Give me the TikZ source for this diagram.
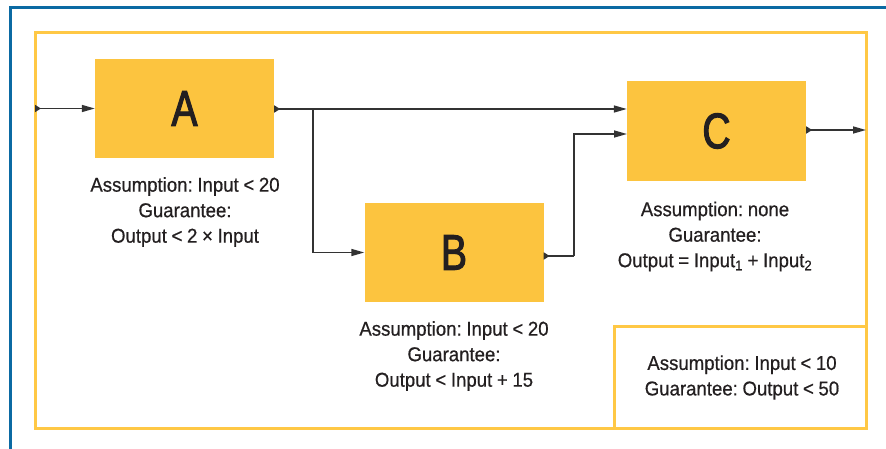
\documentclass[tikz,border=0pt]{standalone}
\usepackage{fontspec}
\setmainfont{Liberation Sans}[FakeStretch=0.93, FakeBold=0.6, WordSpace=0.9]
\newfontfamily\blockfont{Liberation Sans}[FakeStretch=0.78, FakeBold=2.2]
\usetikzlibrary{arrows.meta}
\frenchspacing

\definecolor{blockyellow}{HTML}{FCC43F}
\definecolor{frameyellow}{HTML}{FFC845}
\definecolor{frameblue}{HTML}{0B6AA3}
\definecolor{inkgray}{HTML}{231F20}
\definecolor{wiregray}{HTML}{333333}

\tikzset{
  block/.style={fill=blockyellow, draw=none, minimum width=179pt,
    minimum height=99pt, inner sep=0pt, text=inkgray,
    font=\blockfont\fontsize{50}{50}\selectfont},
  contract/.style={align=center, text=inkgray, inner sep=0pt,
    font=\fontsize{20}{25.5}\selectfont\frenchspacing},
  wire/.style={draw=wiregray, line width=1.5pt,
    -{Triangle[length=13pt,width=7pt]}},
  portwire/.style={draw=wiregray, line width=1.5pt,
    {Triangle[length=6pt,width=7pt,reversed]}-{Triangle[length=13pt,width=7pt]}},
  plainport/.style={draw=wiregray, line width=1.5pt,
    {Triangle[length=6pt,width=7pt,reversed]}-},
  yellowframe/.style={draw=frameyellow, line width=3pt},
  blueframe/.style={draw=frameblue, line width=3pt}
}

\begin{document}
\begin{tikzpicture}[x=1pt,y=-1pt]
  \useasboundingbox (0,0) rectangle (886,449);

  % outer page frame
  \draw[blueframe] (10,449) -- (10,8) -- (886,8);

  % composite component frame and its own contract box
  \draw[yellowframe] (35,33) rectangle (866,428);
  \draw[yellowframe] (614,428) |- (866,326);

  % components
  \node[block] (A) at (184.5,108.5) {A};
  \node[block] (B) at (454,252.5) {B};
  \node[block, minimum height=100pt] (C) at (716.5,131) {C};

  % contracts
  \node[contract] (ctA) at (185,212)
    {Assumption: Input < 20\\Guarantee:\\Output < 2 × Input};
  \node[contract] (ctB) at (454,356)
    {Assumption: Input < 20\\Guarantee:\\Output < Input + 15};
  \node[contract] (ctC) at (715,236.5)
    {Assumption: none\\Guarantee:\\Output = Input\textsubscript{1} + Input\textsubscript{2}};
  \node[contract] (ctTop) at (742,377.5)
    {Assumption: Input < 10\\Guarantee: Output < 50};

  % ports and junctions
  \coordinate (in) at (35,108.5);
  \coordinate (split) at (313,109);
  \coordinate (bend) at (574,256);
  \coordinate (cinB) at (627,134);
  \coordinate (out) at (866,130);

  % connections
  \draw[portwire] (in) -- (A.west);
  \draw[portwire] (A.east |- split) -- (C.west |- split);
  \draw[wire] (split) |- (B.west);
  \draw[plainport] (B.east |- bend) -- (bend);
  \draw[wire] (bend) |- (cinB);
  \draw[portwire] (C.east |- out) -- (out);
\end{tikzpicture}
\end{document}
